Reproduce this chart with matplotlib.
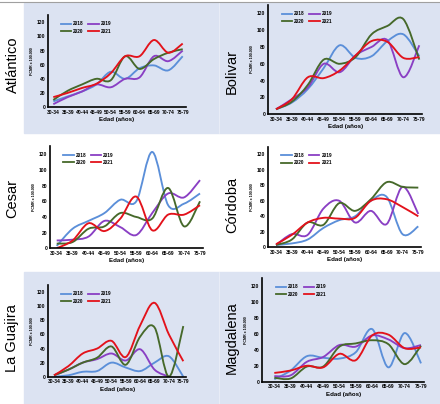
import numpy as np
import matplotlib
matplotlib.use("Agg")
import matplotlib.pyplot as plt
from matplotlib.path import Path
from matplotlib.patches import PathPatch, Rectangle
from matplotlib.lines import Line2D

plt.rcParams['font.family'] = ['Liberation Sans', 'DejaVu Sans']

ages = ['30-34', '35-39', '40-44', '45-49', '50-54', '55-59', '60-64', '65-69', '70-74', '75-79']
years = ['2018', '2019', '2020', '2021']
colors = ['#5b8fd9', '#8a3fc4', '#46692a', '#e3121b']

atlantico_2018 = [8, 15, 22, 32, 50, 40, 55, 59, 52, 72]
atlantico_2019 = [4, 14, 22, 32, 28, 40, 42, 72, 65, 80]
atlantico_2020 = [10, 23, 32, 40, 38, 72, 54, 68, 77, 82]
atlantico_2021 = [14, 20, 27, 33, 48, 72, 72, 95, 77, 90]

bolivar_2018 = [6, 14, 30, 55, 82, 67, 69, 87, 95, 69]
bolivar_2019 = [6, 18, 32, 60, 50, 70, 80, 88, 44, 82]
bolivar_2020 = [6, 15, 35, 65, 60, 68, 95, 105, 113, 65]
bolivar_2021 = [6, 18, 44, 43, 52, 70, 87, 86, 67, 68]

cesar_2018 = [3, 25, 35, 45, 62, 60, 123, 55, 57, 70]
cesar_2019 = [10, 11, 15, 35, 27, 17, 45, 70, 65, 87]
cesar_2020 = [6, 8, 25, 28, 45, 40, 38, 77, 28, 60]
cesar_2021 = [0, 10, 32, 22, 38, 66, 23, 43, 43, 55]

cordoba_2018 = [3, 5, 10, 25, 35, 40, 60, 65, 17, 27]
cordoba_2019 = [3, 17, 16, 50, 60, 32, 47, 30, 78, 43]
cordoba_2020 = [3, 10, 32, 29, 57, 47, 62, 84, 78, 77]
cordoba_2021 = [4, 16, 32, 38, 37, 38, 60, 62, 52, 40]

guajira_2018 = [0, 2, 7, 8, 20, 13, 8, 20, 29, 0]
guajira_2019 = [2, 10, 20, 25, 33, 23, 39, 10, 0, None]
guajira_2020 = [2, 10, 20, 27, 43, 17, 57, 70, 0, 72]
guajira_2021 = [2, 15, 33, 40, 51, 28, 73, 105, 60, 22]

magdalena_2018 = [3, 14, 32, 30, 29, 37, 66, 18, 61, 23]
magdalena_2019 = [7, 8, 25, 31, 46, 44, 58, 53, 42, 46]
magdalena_2020 = [5, 4, 19, 19, 44, 48, 52, 47, 22, 45]
magdalena_2021 = [11, 14, 20, 18, 35, 27, 58, 59, 42, 43]

panels = [
    ('Atlántico', [atlantico_2018, atlantico_2019, atlantico_2020, atlantico_2021]),
    ('Bolivar', [bolivar_2018, bolivar_2019, bolivar_2020, bolivar_2021]),
    ('Cesar', [cesar_2018, cesar_2019, cesar_2020, cesar_2021]),
    ('Córdoba', [cordoba_2018, cordoba_2019, cordoba_2020, cordoba_2021]),
    ('La Guajira', [guajira_2018, guajira_2019, guajira_2020, guajira_2021]),
    ('Magdalena', [magdalena_2018, magdalena_2019, magdalena_2020, magdalena_2021]),
]

# pixel geometry: axis left, first cat x, last cat x, y of 0, y of 120, label x, label y
geom = [
    (48, 53.3, 182.7, 107, 22.4, 13, 65),
    (268, 276, 419.3, 114.3, 13.3, 232, 72),
    (50, 56.7, 200, 248.3, 154.3, 12, 199),
    (268, 276, 418.3, 247.3, 154.3, 232, 205),
    (48, 54, 183.3, 376.7, 292.3, 12, 338),
    (262, 274.3, 421, 381.7, 286, 232, 338),
]

W, H = 440, 404
fig = plt.figure(figsize=(W / 100, H / 100), dpi=100)
bg = '#dce3f2'
fig.patches.append(Rectangle((24 / W, 1 - 133 / H), (W - 24) / W, 130 / H,
                             transform=fig.transFigure, color=bg, zorder=-10))
fig.patches.append(Rectangle((24 / W, 0), (W - 24) / W, (H - 272) / H,
                             transform=fig.transFigure, color=bg, zorder=-10))
fig.add_artist(Line2D([0, 1], [1 - 1.5 / H, 1 - 1.5 / H], color='#a0a0a0', lw=0.8))
fig.add_artist(Line2D([219 / W, 219 / W], [1 - 133 / H, 1 - 3 / H], color='#eef1f8', lw=0.5))
fig.add_artist(Line2D([219 / W, 219 / W], [0, 1 - 272 / H], color='#eef1f8', lw=0.5))


def smooth_path(xs, ys):
    pts = [(x, y) for x, y in zip(xs, ys) if y is not None]
    verts = [pts[0]]
    codes = [Path.MOVETO]
    n = len(pts)
    for i in range(n - 1):
        p0 = pts[max(i - 1, 0)]
        p1 = pts[i]
        p2 = pts[i + 1]
        p3 = pts[min(i + 2, n - 1)]
        c1 = (p1[0] + (p2[0] - p0[0]) / 6, p1[1] + (p2[1] - p0[1]) / 6)
        c2 = (p2[0] - (p3[0] - p1[0]) / 6, p2[1] - (p3[1] - p1[1]) / 6)
        verts += [c1, c2, p2]
        codes += [Path.CURVE4] * 3
    return Path(verts, codes)


for (name, series), (left, c0, c9, y0, y120, lx, ly) in zip(panels, geom):
    ppc = (c9 - c0) / 9
    a = (left - c0) / ppc
    right = c9 + 0.2 * ppc
    ppu = (y0 - y120) / 120
    top = y0 - 130 * ppu
    ax = fig.add_axes([left / W, 1 - y0 / H, (right - left) / W, (y0 - top) / H])
    ax.set_xlim(a, 9.2)
    ax.set_ylim(0, 130)
    ax.patch.set_alpha(0)
    for s in ['top', 'right']:
        ax.spines[s].set_visible(False)
    ax.spines['left'].set_linewidth(1.2)
    ax.spines['bottom'].set_linewidth(1.2)
    ax.set_xticks(range(len(ages)))
    ax.set_xticklabels(ages)
    ax.set_yticks([0, 20, 40, 60, 80, 100, 120])
    ax.tick_params(length=0, labelsize=3.6, pad=2)
    for t in ax.get_xticklabels() + ax.get_yticklabels():
        t.set_fontweight('bold')
    ax.set_xlabel('Edad (años)', fontsize=4.4, fontweight='bold', labelpad=1.5)
    ax.set_ylabel('PCMR x 100.000', fontsize=2.6, fontweight='bold', labelpad=2)
    x = np.arange(len(ages))
    handles = []
    for vals, col, yr in zip(series, colors, years):
        ax.add_patch(PathPatch(smooth_path(x, vals), fill=False, edgecolor=col, lw=1.35))
        handles.append(Line2D([], [], color=col, lw=1.3, label=yr))
    order = [0, 2, 1, 3]
    ax.legend([handles[i] for i in order], [years[i] for i in order], ncol=2,
              loc='upper left', bbox_to_anchor=(0.06, 0.98), frameon=False,
              handlelength=2.2, columnspacing=1.0, labelspacing=0.5,
              handletextpad=0.4, prop={'weight': 'bold', 'size': 3.4})
    fig.text(lx / W, 1 - ly / H, name, rotation=90, fontsize=10.5,
             ha='center', va='center')

fig.savefig('out.png', dpi=100)
